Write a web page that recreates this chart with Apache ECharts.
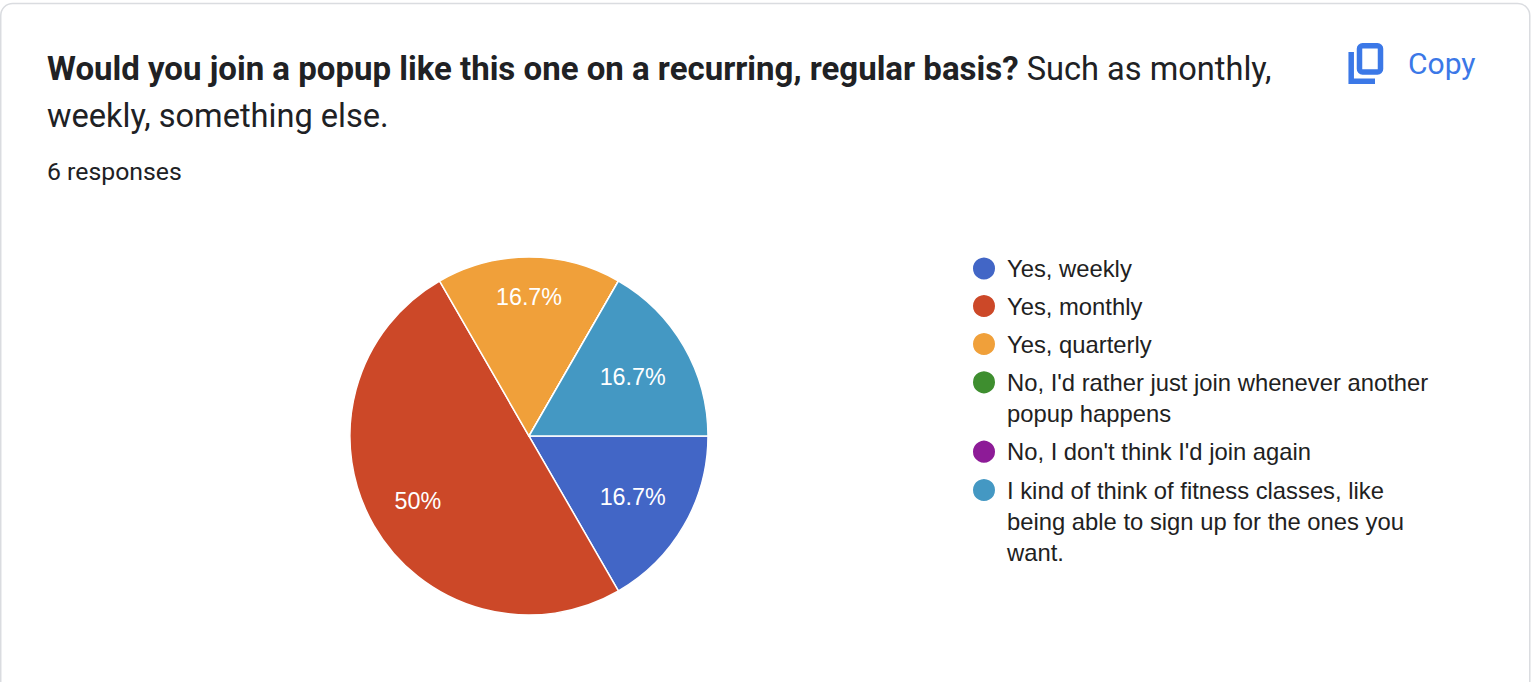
<!DOCTYPE html>
<html>
<head>
<meta charset="utf-8">
<script src="https://cdn.jsdelivr.net/npm/echarts@6/dist/echarts.min.js"></script>
<style>
html,body{margin:0;padding:0;background:#ffffff;}
#chart{width:1532px;height:682px;}
</style>
</head>
<body>
<div id="chart"></div>
<script>
// ---- data ----
const categories = [
  'Yes, weekly',
  'Yes, monthly',
  'Yes, quarterly',
  "No, I'd rather just join whenever another popup happens",
  "No, I don't think I'd join again",
  'I kind of think of fitness classes, like being able to sign up for the ones you want.'
];
const responses = [1, 3, 1, 0, 0, 1];
const sliceColors = ['#4266c6', '#cc4828', '#f0a03a', '#3e8e2f', '#8d1b97', '#4498c3'];
const titleBold = 'Would you join a popup like this one on a recurring, regular basis?';
const titleRestLine1 = ' Such as monthly,';
const titleLine2 = 'weekly, something else.';
const responseCountText = '6 responses';
const copyText = 'Copy';

// ---- layout ----
const PIE_CX = 529, PIE_CY = 436, PIE_R = 179;
const legendIconCenters = [268.5, 306, 344, 382.3, 451.7, 490];
const LEGEND_LH = 31;
const LEGEND_FONT_SIZE = 23.8;
const LEGEND_FONT_FAMILY = '"Liberation Sans", Arial, sans-serif';
const LEGEND_WRAP = 432;

const total = responses.reduce((a, b) => a + b, 0);

// greedy word wrap using real text measurement
const measureCtx = document.createElement('canvas').getContext('2d');
measureCtx.font = LEGEND_FONT_SIZE + 'px ' + LEGEND_FONT_FAMILY;
function wrapWords(text, maxW) {
  const words = text.split(' ');
  const lines = [];
  let cur = '';
  words.forEach(w => {
    const test = cur ? cur + ' ' + w : w;
    if (cur && measureCtx.measureText(test).width > maxW) {
      lines.push(cur);
      cur = w;
    } else {
      cur = test;
    }
  });
  if (cur) lines.push(cur);
  return lines;
}

const chart = echarts.init(document.getElementById('chart'), null, {renderer: 'svg'});

const legends = categories.map((name, i) => {
  const lines = wrapWords(name, LEGEND_WRAP);
  const n = lines.length;
  // empty lines on top keep the icon aligned with the first text line
  const shown = '\n'.repeat(n - 1) + lines.join('\n');
  return {
    orient: 'vertical',
    left: 971,
    top: legendIconCenters[i] - (2 * n - 1) * LEGEND_LH / 2,
    padding: 0,
    itemWidth: 24,
    itemHeight: 24,
    icon: 'circle',
    selectedMode: false,
    data: [name],
    formatter: function () { return shown; },
    textStyle: {
      fontFamily: LEGEND_FONT_FAMILY,
      fontSize: LEGEND_FONT_SIZE,
      color: '#212121',
      lineHeight: LEGEND_LH,
      padding: [0, 0, 0, 6]
    }
  };
});

const option = {
  backgroundColor: '#ffffff',
  animation: false,
  color: sliceColors,
  title: {
    left: 47,
    top: 45,
    padding: 0,
    text: '{b|' + titleBold + '}{n|' + titleRestLine1 + '}\n{n|' + titleLine2 + '}',
    textStyle: {
      rich: {
        b: {fontFamily: 'Roboto, sans-serif', fontWeight: 'bold', fontSize: 33, lineHeight: 47, color: '#202124'},
        n: {fontFamily: 'Roboto, sans-serif', fontWeight: 'normal', fontSize: 32.6, lineHeight: 47, color: '#202124'}
      }
    }
  },
  legend: legends,
  graphic: [
    {
      type: 'rect', z: -10, silent: true,
      shape: {x: 0.75, y: 3.5, width: 1529, height: 740, r: 12},
      style: {fill: '#ffffff', stroke: '#dadce0', lineWidth: 1.5}
    },
    {
      type: 'text', left: 47, top: 173 - 14, silent: true,
      style: {text: responseCountText, font: '24.8px Roboto, sans-serif', fill: '#202124'}
    },
    {
      type: 'rect', silent: true,
      shape: {x: 1359.5, y: 45.8, width: 21, height: 26.2, r: 3},
      style: {fill: 'none', stroke: '#3b78e7', lineWidth: 5.5}
    },
    {
      type: 'polyline', silent: true,
      shape: {points: [[1351.2, 52], [1351.2, 81.2], [1375, 81.2]]},
      style: {fill: 'none', stroke: '#3b78e7', lineWidth: 5.5, lineCap: 'butt', lineJoin: 'miter'}
    },
    {
      type: 'text', left: 1408, top: 66 - 17.5, silent: true,
      style: {text: copyText, font: '30px Roboto, sans-serif', fill: '#3b78e7'}
    }
  ],
  series: [{
    type: 'pie',
    center: [PIE_CX, PIE_CY],
    radius: [0, PIE_R],
    startAngle: 0,
    clockwise: true,
    avoidLabelOverlap: false,
    emphasis: {disabled: true},
    itemStyle: {borderColor: '#ffffff', borderWidth: 1.5},
    label: {
      show: true,
      position: 'inside',
      color: '#ffffff',
      fontFamily: '"Liberation Sans", Arial, sans-serif',
      fontSize: 23.3,
      formatter: function (p) {
        if (!p.value) return '';
        return (Math.round(p.value / total * 1000) / 10) + '%';
      }
    },
    labelLine: {show: false},
    labelLayout: function (p) {
      const r = p.labelRect;
      if (!r || !r.width) return {};
      const lx = r.x + r.width / 2, ly = r.y + r.height / 2;
      const dx = lx - PIE_CX, dy = ly - PIE_CY;
      const len = Math.hypot(dx, dy) || 1;
      const ux = dx / len, uy = dy / len;
      const hw = r.width / 2, hh = 9;
      const sx = ux >= 0 ? hw : -hw, sy = uy >= 0 ? hh : -hh;
      const us = ux * sx + uy * sy, ss = sx * sx + sy * sy;
      const R = PIE_R * 0.855;
      const t = -us + Math.sqrt(us * us - ss + R * R);
      return {x: PIE_CX + ux * t, y: PIE_CY + uy * t + 1};
    },
    data: categories.map((name, i) => ({name: name, value: responses[i]}))
  }]
};
chart.setOption(option);
</script>
</body>
</html>
